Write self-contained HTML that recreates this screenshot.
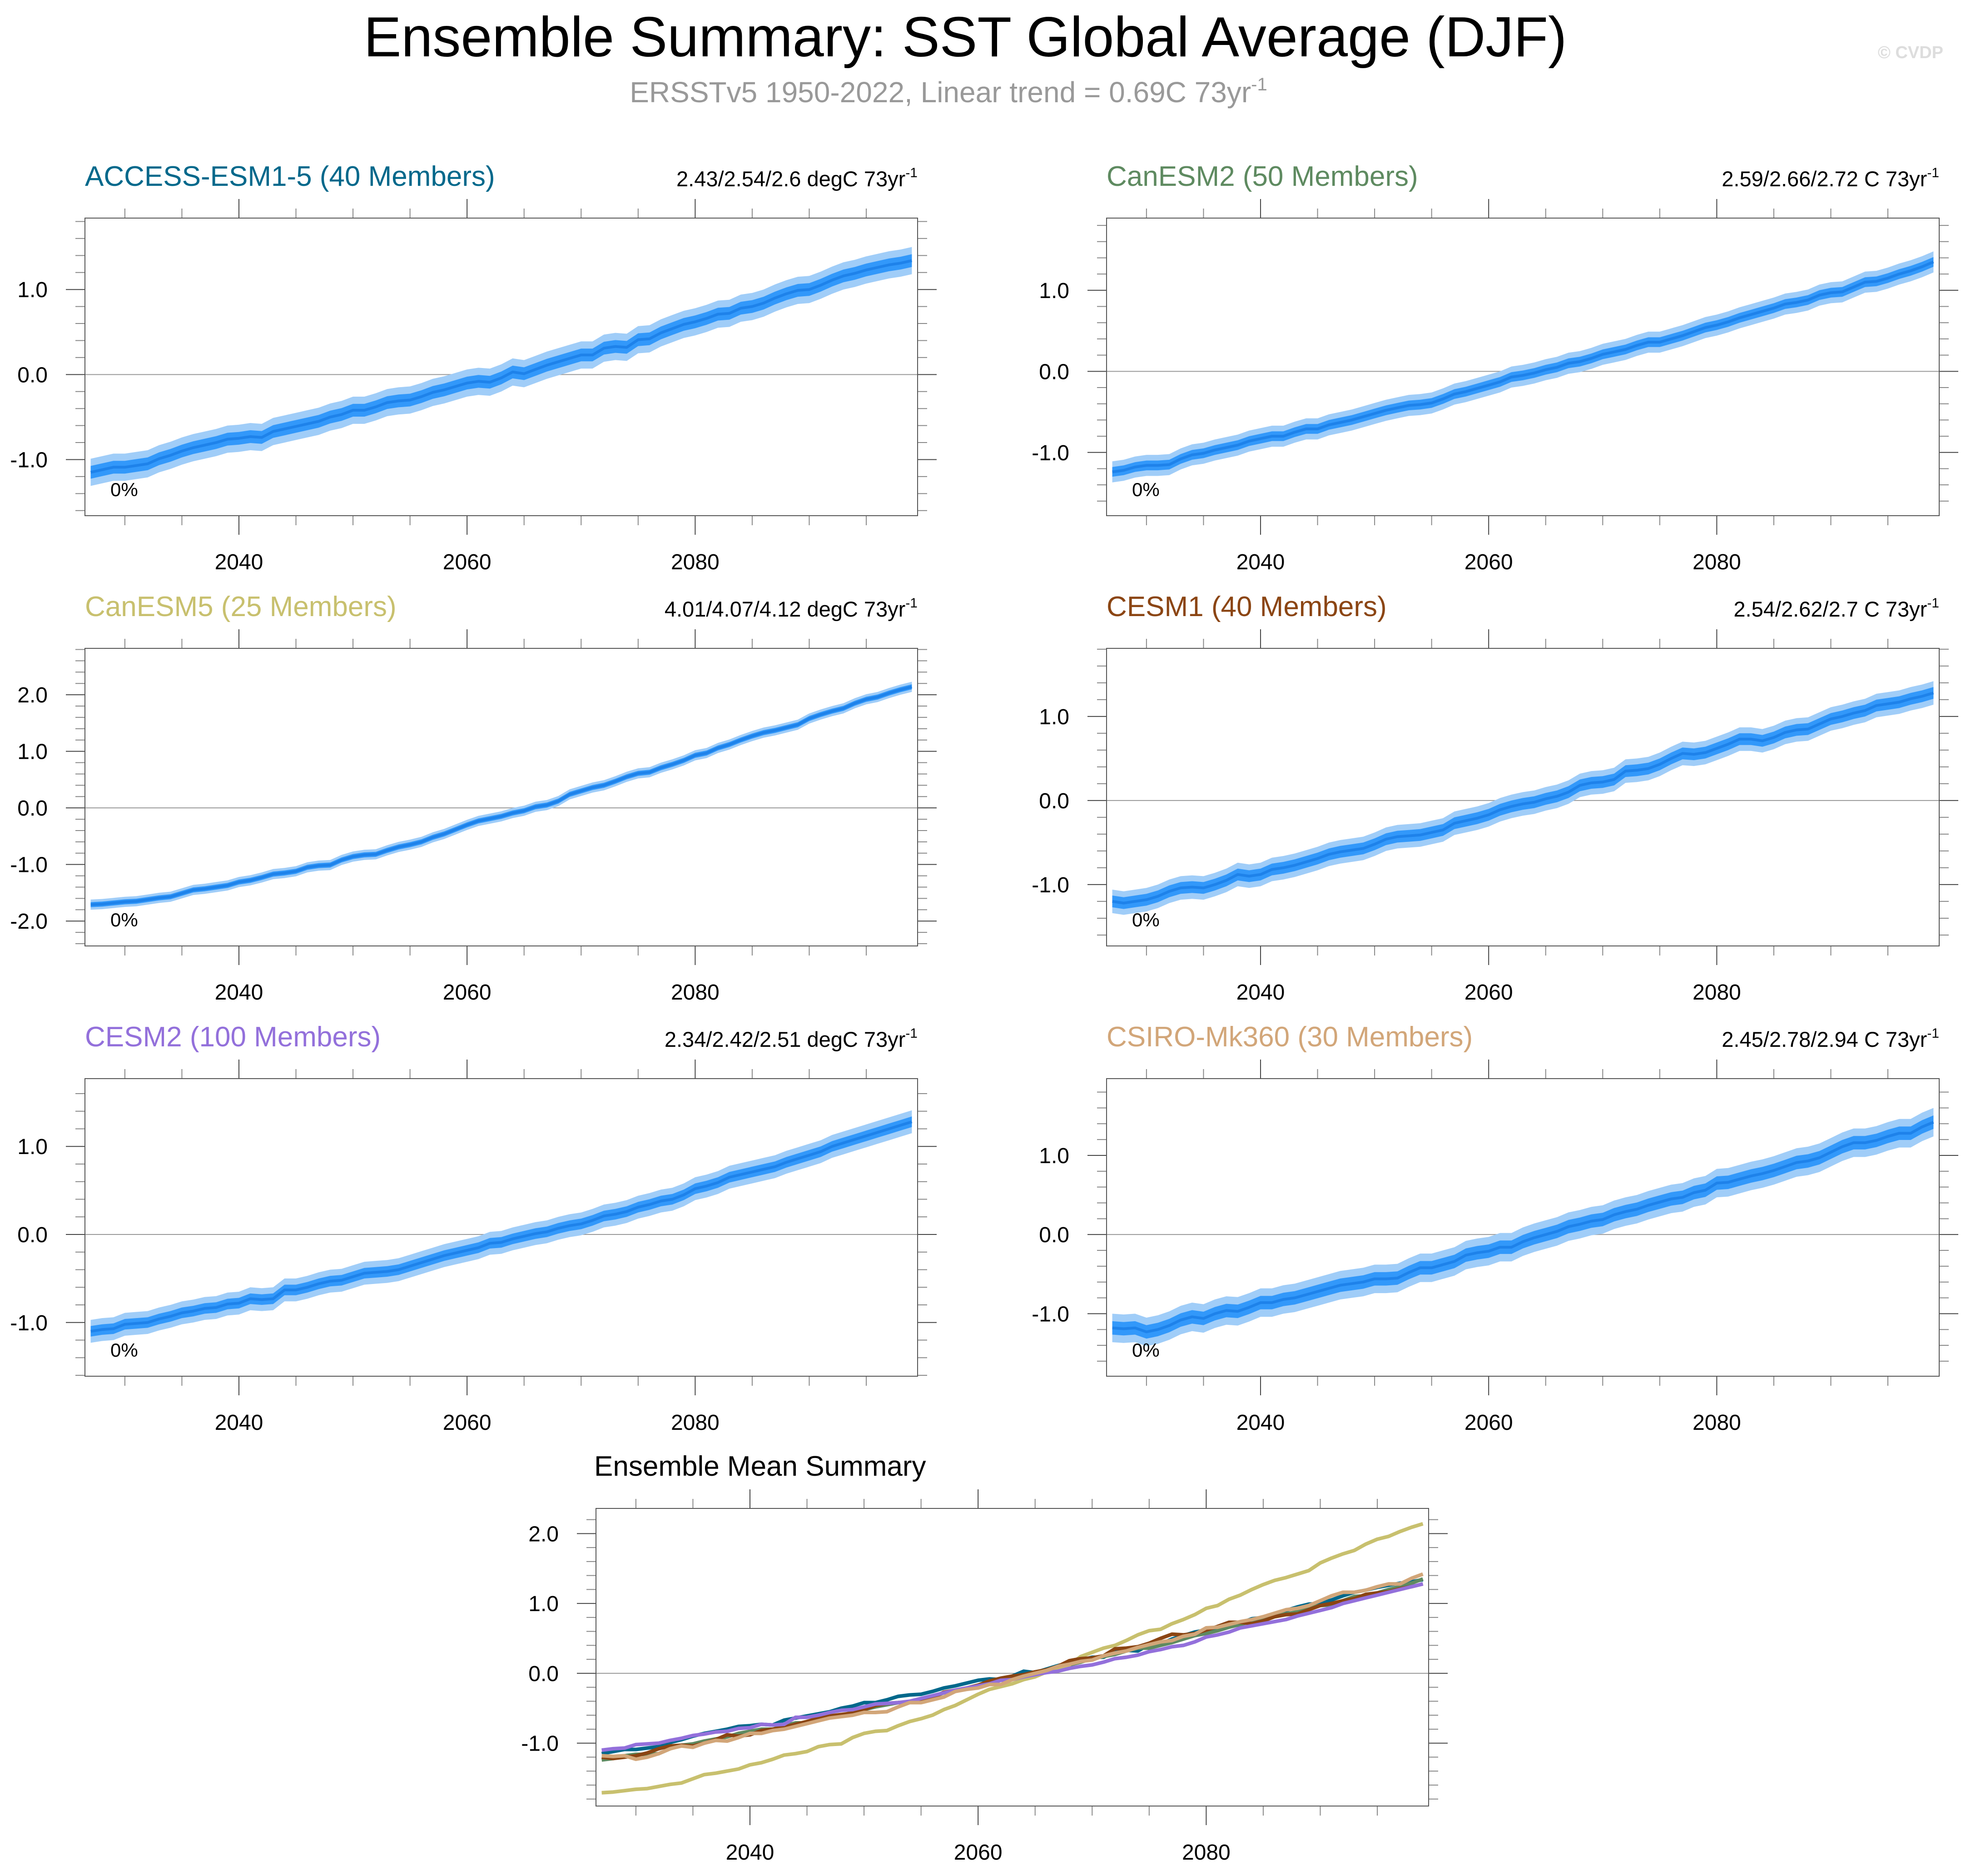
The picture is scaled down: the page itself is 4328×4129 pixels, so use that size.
<!DOCTYPE html>
<html><head><meta charset="utf-8"><title>Ensemble Summary: SST Global Average (DJF)</title>
<style>
html,body{margin:0;padding:0;background:#fff;}
svg{display:block;font-family:"Liberation Sans",sans-serif;}
</style></head>
<body>
<svg id="fig" xmlns="http://www.w3.org/2000/svg" width="4328" height="4129" viewBox="0 0 4328 4129">
<text x="2125" y="124" font-size="124" text-anchor="middle" fill="#000">Ensemble Summary: SST Global Average (DJF)</text>
<text x="2088" y="225" font-size="64" text-anchor="middle" fill="#999">ERSSTv5 1950-2022, Linear trend = 0.69C 73yr<tspan dy="-26" font-size="40">-1</tspan></text>
<text x="4278" y="128" font-size="38" font-weight="bold" text-anchor="end" fill="#ddd">© CVDP</text>
</svg>
<script>
const years0 = 2027;
const accessMean = [-1.15,-1.12,-1.09,-1.09,-1.07,-1.05,-0.99,-0.95,-0.90,-0.86,
-0.83,-0.80,-0.76,-0.75,-0.73,-0.74,-0.67,-0.64,-0.61,-0.58,
-0.55,-0.50,-0.47,-0.42,-0.42,-0.38,-0.33,-0.31,-0.30,-0.26,
-0.21,-0.18,-0.14,-0.10,-0.08,-0.09,-0.04,0.03,0.01,0.06,
0.11,0.15,0.19,0.23,0.23,0.31,0.33,0.32,0.41,0.42,
0.49,0.54,0.59,0.62,0.66,0.71,0.72,0.78,0.80,0.84,
0.90,0.95,0.99,1.00,1.05,1.11,1.16,1.19,1.23,1.26,
1.29,1.31,1.34];
const canesm2Mean = [-1.24,-1.22,-1.18,-1.16,-1.16,-1.15,-1.08,-1.03,-1.01,-0.97,
-0.94,-0.91,-0.86,-0.83,-0.80,-0.80,-0.75,-0.71,-0.71,-0.66,
-0.63,-0.60,-0.56,-0.52,-0.48,-0.45,-0.42,-0.41,-0.39,-0.34,
-0.28,-0.25,-0.21,-0.17,-0.13,-0.07,-0.05,-0.02,0.02,0.05,
0.10,0.12,0.16,0.21,0.24,0.27,0.32,0.36,0.36,0.40,
0.44,0.49,0.54,0.57,0.61,0.66,0.70,0.74,0.78,0.83,
0.85,0.88,0.94,0.97,0.98,1.04,1.10,1.11,1.15,1.20,
1.24,1.29,1.35];
const canesm5Mean = [-1.71,-1.70,-1.68,-1.66,-1.65,-1.62,-1.59,-1.57,-1.51,-1.45,
-1.43,-1.40,-1.37,-1.31,-1.28,-1.23,-1.17,-1.15,-1.12,-1.05,
-1.02,-1.01,-0.92,-0.86,-0.83,-0.82,-0.75,-0.69,-0.65,-0.60,
-0.52,-0.46,-0.38,-0.30,-0.23,-0.19,-0.15,-0.09,-0.05,0.02,
0.05,0.12,0.24,0.30,0.36,0.40,0.47,0.55,0.61,0.63,
0.71,0.77,0.84,0.93,0.97,1.06,1.12,1.20,1.27,1.33,
1.37,1.42,1.47,1.58,1.65,1.71,1.76,1.85,1.92,1.96,
2.03,2.09,2.14];
const cesm1Mean = [-1.20,-1.22,-1.20,-1.18,-1.14,-1.08,-1.04,-1.03,-1.04,-1.00,
-0.95,-0.88,-0.90,-0.88,-0.82,-0.80,-0.77,-0.73,-0.69,-0.64,
-0.61,-0.59,-0.57,-0.52,-0.46,-0.43,-0.42,-0.41,-0.38,-0.35,
-0.27,-0.24,-0.21,-0.17,-0.11,-0.07,-0.04,-0.02,0.02,0.05,
0.10,0.18,0.21,0.22,0.25,0.35,0.36,0.38,0.43,0.50,
0.56,0.55,0.57,0.62,0.67,0.73,0.73,0.71,0.75,0.81,
0.84,0.85,0.91,0.97,1.00,1.04,1.07,1.13,1.15,1.17,
1.21,1.24,1.28];
const cesm2Mean = [-1.10,-1.08,-1.07,-1.02,-1.01,-1.00,-0.96,-0.93,-0.89,-0.87,
-0.84,-0.83,-0.79,-0.78,-0.73,-0.74,-0.73,-0.63,-0.63,-0.60,
-0.56,-0.53,-0.52,-0.48,-0.44,-0.43,-0.42,-0.40,-0.36,-0.32,
-0.28,-0.24,-0.21,-0.18,-0.15,-0.10,-0.09,-0.05,-0.02,0.01,
0.03,0.07,0.10,0.12,0.16,0.21,0.23,0.26,0.31,0.34,
0.38,0.40,0.45,0.52,0.55,0.59,0.65,0.68,0.71,0.74,
0.77,0.82,0.86,0.90,0.94,1.00,1.04,1.08,1.12,1.16,
1.20,1.24,1.28];
const csiroMean = [-1.18,-1.19,-1.18,-1.23,-1.20,-1.15,-1.08,-1.04,-1.06,-1.00,
-0.96,-0.97,-0.92,-0.86,-0.86,-0.82,-0.80,-0.76,-0.72,-0.68,
-0.64,-0.62,-0.60,-0.56,-0.56,-0.55,-0.48,-0.42,-0.42,-0.38,
-0.34,-0.26,-0.23,-0.21,-0.16,-0.16,-0.09,-0.04,0.00,0.04,
0.10,0.13,0.17,0.19,0.25,0.29,0.32,0.37,0.41,0.45,
0.47,0.53,0.56,0.65,0.66,0.70,0.74,0.77,0.81,0.86,
0.91,0.93,0.97,1.04,1.11,1.16,1.16,1.19,1.24,1.28,
1.28,1.36,1.42];
const modelNames = ["ACCESS-ESM1-5 (40 Members)","CanESM2 (50 Members)","CanESM5 (25 Members)","CESM1 (40 Members)","CESM2 (100 Members)","CSIRO-Mk360 (30 Members)"];
const trendLabels = ["2.43/2.54/2.6 degC 73yr","2.59/2.66/2.72 C 73yr","4.01/4.07/4.12 degC 73yr","2.54/2.62/2.7 C 73yr","2.34/2.42/2.51 degC 73yr","2.45/2.78/2.94 C 73yr"];
const outerSpread = [0.16,0.13,0.09,0.14,0.13,0.18];
const innerSpread = [0.075,0.06,0.045,0.07,0.06,0.085];
const yMinArr = [-1.66,-1.78,-2.44,-1.73,-1.61,-1.79];
const yMaxArr = [1.84,1.89,2.82,1.81,1.77,1.97];
const xTickYears = [2040,2060,2080];
const allMeans = [accessMean,canesm2Mean,canesm5Mean,cesm1Mean,cesm2Mean,csiroMean];

const modelColors = ["#00688b","#5e8a60","#c8c06e","#8b4513","#9370db","#d2a679"];
const NS = "http://www.w3.org/2000/svg";
const svg = document.getElementById("fig");
function mk(tag, attrs, parent){const e=document.createElementNS(NS,tag);for(const k in attrs)e.setAttribute(k,attrs[k]);(parent||svg).appendChild(e);return e;}
const W = 1833, H = 655;
const X0 = 2026.5, X1 = 2099.5;

function axesFrame(g, L, T, yMin, yMax){
  const sx = yr => L + (yr - X0) / (X1 - X0) * W;
  const sy = v => T + (yMax - v) / (yMax - yMin) * H;
  for (let yr = 2030; yr <= 2099; yr += 5) {
    const major = yr % 20 === 0;
    const len = major ? 42 : 21;
    const x = sx(yr);
    const t1 = mk("line",{x1:x,y1:T,x2:x,y2:T-len,stroke:major?"#444":"#888","stroke-width":2},g);
    
    
    const t2 = mk("line",{x1:x,y1:T+H,x2:x,y2:T+H+len,stroke:major?"#444":"#888","stroke-width":2},g);
    
    
  }
  xTickYears.forEach(yr=>{
    const lb = mk("text",{x:sx(yr),y:T+H+118,"font-size":48,"text-anchor":"middle",fill:"#000"},g);
    lb.textContent = String(yr);
    
    
  });
  const start = Math.ceil(yMin/0.2-1e-6), end = Math.floor(yMax/0.2+1e-6);
  for (let k = start; k <= end; k++) {
    const v = k*0.2; const major = k % 5 === 0; const len = major?42:21; const y = sy(v);
    const a = mk("line",{x1:L,y1:y,x2:L-len,y2:y,stroke:major?"#444":"#888","stroke-width":2},g);
    
    
    const b = mk("line",{x1:L+W,y1:y,x2:L+W+len,y2:y,stroke:major?"#444":"#888","stroke-width":2},g);
    
    
    if (major) {
      const lb = mk("text",{x:L-82,y:y+17,"font-size":48,"text-anchor":"end",fill:"#000"},g);
      lb.textContent = (Math.round(v*10)/10).toFixed(1);
      
      
    }
  }
  const z = mk("line",{x1:L,y1:sy(0),x2:L+W,y2:sy(0),stroke:"#999","stroke-width":2},g);
  
  
  return {sx, sy};
}

function drawBox(g,L,T){
  const r = mk("rect",{x:L,y:T,width:W,height:H,fill:"none",stroke:"#555","stroke-width":2},g);
  
  
}

const lefts = [187,2436];
const tops = [480,1427,2374];
allMeans.forEach((mean, i) => {
  const L = lefts[i%2], T = tops[Math.floor(i/2)];
  const g = mk("g",{});
  
  
  const {sx, sy} = axesFrame(g, L, T, yMinArr[i], yMaxArr[i]);
  const band = (sp) => {
    const up = mean.map((v,j)=>sx(years0+j).toFixed(1)+","+sy(v+sp).toFixed(1));
    const dn = mean.map((v,j)=>sx(years0+j).toFixed(1)+","+sy(v-sp).toFixed(1)).reverse();
    return up.concat(dn).join(" ");
  };
  const o = mk("polygon",{points:band(outerSpread[i]),fill:"#a0cdf8"},g);
  
  
  const n = mk("polygon",{points:band(innerSpread[i]),fill:"#3298fa"},g);
  
  
  const ln = mk("polyline",{points:mean.map((v,j)=>sx(years0+j).toFixed(1)+","+sy(v).toFixed(1)).join(" "),fill:"none",stroke:"#1e82ea","stroke-width":6,"stroke-linejoin":"round"},g);
  
  
  drawBox(g,L,T);
  const pc = mk("text",{x:L+56,y:T+612,"font-size":42,fill:"#000"},g);
  pc.textContent = "0%";
  
  
  const tt = mk("text",{x:L,y:T-71,"font-size":62,fill:modelColors[i]},g);
  tt.textContent = modelNames[i];
  
  
  const st = mk("text",{x:L+W,y:T-70,"font-size":47,"text-anchor":"end",fill:"#000"},g);
  st.textContent = trendLabels[i];
  
  
  const sup = mk("tspan",{dy:-20,"font-size":30},st);
  sup.textContent = "-1";
});

{
  const L = 1312, T = 3320;
  const g = mk("g",{});
  
  
  const {sx, sy} = axesFrame(g, L, T, -1.90, 2.36);
  allMeans.forEach((mean,i)=>{
    const ln = mk("polyline",{points:mean.map((v,j)=>sx(years0+j).toFixed(1)+","+sy(v).toFixed(1)).join(" "),fill:"none",stroke:modelColors[i],"stroke-width":8,"stroke-linejoin":"round"},g);
    
    
  });
  drawBox(g,L,T);
  const tt = mk("text",{x:1308,y:3248,"font-size":62,fill:"#000"},g);
  tt.textContent = "Ensemble Mean Summary";
  
  
}
</script>
</body></html>
